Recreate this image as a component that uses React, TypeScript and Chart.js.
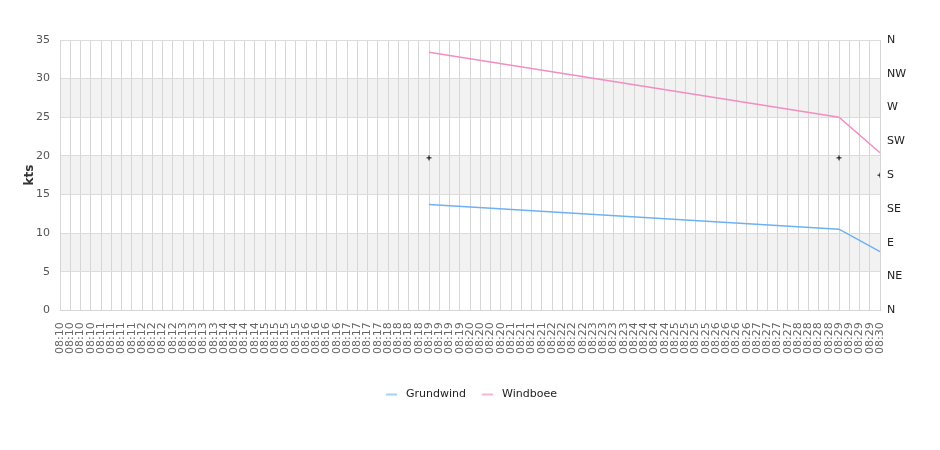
import React, { useEffect, useRef } from "react";
import { Chart, registerables } from "chart.js";

Chart.register(...registerables);

const timeLabels: string[] = [
  "08:10", "08:10", "08:10", "08:10",
  "08:11", "08:11", "08:11", "08:11",
  "08:12", "08:12", "08:12", "08:12",
  "08:13", "08:13", "08:13", "08:13",
  "08:14", "08:14", "08:14", "08:14",
  "08:15", "08:15", "08:15", "08:15",
  "08:16", "08:16", "08:16", "08:16",
  "08:17", "08:17", "08:17", "08:17",
  "08:18", "08:18", "08:18", "08:18",
  "08:19", "08:19", "08:19", "08:19",
  "08:20", "08:20", "08:20", "08:20",
  "08:21", "08:21", "08:21", "08:21",
  "08:22", "08:22", "08:22", "08:22",
  "08:23", "08:23", "08:23", "08:23",
  "08:24", "08:24", "08:24", "08:24",
  "08:25", "08:25", "08:25", "08:25",
  "08:26", "08:26", "08:26", "08:26",
  "08:27", "08:27", "08:27", "08:27",
  "08:28", "08:28", "08:28", "08:28",
  "08:29", "08:29", "08:29", "08:29",
  "08:30",
];

// observation points (label index) and their values
const obsIndex: number[] = [36, 76, 80];
const grundwind: number[] = [13.7, 10.5, 7.6];
const windboee: number[] = [33.4, 25.0, 20.4];
const direction: number[] = [203, 203, 180];

const directionNames: string[] = ["N", "NE", "E", "SE", "S", "SW", "W", "NW", "N"];
const bandRanges: number[][] = [[5, 10], [15, 20], [25, 30]];

function toSeries(values: number[]): (number | null)[] {
  const out: (number | null)[] = timeLabels.map(() => null);
  obsIndex.forEach((idx, i) => {
    out[idx] = values[i];
  });
  return out;
}

const bandPlugin = {
  id: "bands",
  beforeDraw(chart: any) {
    const { ctx, chartArea, scales } = chart;
    const y = scales.y;
    ctx.save();
    ctx.fillStyle = "#f2f2f2";
    bandRanges.forEach(([a, b]) => {
      const top = y.getPixelForValue(b);
      const bottom = y.getPixelForValue(a);
      ctx.fillRect(chartArea.left, top, chartArea.right - chartArea.left, bottom - top);
    });
    ctx.restore();
  },
};

export default function App() {
  const canvasRef = useRef<HTMLCanvasElement | null>(null);

  useEffect(() => {
    document.body.style.margin = "0";
    Chart.defaults.font.family = "'DejaVu Sans', sans-serif";
    Chart.defaults.font.size = 11;
    const canvas = canvasRef.current;
    if (!canvas) return;
    const chart = new Chart(canvas, {
      type: "line",
      data: {
        labels: timeLabels,
        datasets: [
          {
            label: "Grundwind",
            data: toSeries(grundwind),
            borderColor: "#6eb1f2",
            backgroundColor: "#a6cff5",
            borderWidth: 1.5,
            pointRadius: 0,
            spanGaps: true,
            yAxisID: "y",
          },
          {
            label: "Windboee",
            data: toSeries(windboee),
            borderColor: "#f28ec2",
            backgroundColor: "#f5b3d6",
            borderWidth: 1.5,
            pointRadius: 0,
            spanGaps: true,
            yAxisID: "y",
          },
          {
            label: "Richtung",
            data: toSeries(direction),
            showLine: false,
            pointStyle: "cross",
            pointRadius: 2.5,
            borderColor: "#000000",
            backgroundColor: "#000000",
            borderWidth: 1,
            clip: 0,
            yAxisID: "y2",
          },
        ],
      },
      options: {
        responsive: false,
        animation: false,
        layout: { padding: { left: 19, right: 16, top: 40, bottom: 40 } },
        plugins: {
          tooltip: { enabled: false },
          legend: {
            position: "bottom",
            labels: {
              color: "#222",
              boxWidth: 11,
              boxHeight: 2,
              padding: 16,
              filter: (item: any) => item.datasetIndex !== 2,
              generateLabels: (chart: any) =>
                chart.data.datasets.map((ds: any, i: number) => ({
                  text: " " + ds.label,
                  fillStyle: ds.backgroundColor,
                  strokeStyle: ds.backgroundColor,
                  lineWidth: 0,
                  hidden: false,
                  datasetIndex: i,
                  fontColor: "#222",
                })),
            },
          },
        },
        scales: {
          x: {
            offset: false,
            grid: { color: "#d6d6d6", drawTicks: false },
            border: { color: "#d6d6d6" },
            ticks: {
              autoSkip: false,
              maxRotation: 90,
              minRotation: 90,
              padding: 12,
              color: "#666",
            },
            afterFit: (scale: any) => {
              scale.height = scale.height + 7;
            },
          },
          y: {
            position: "left",
            min: 0,
            max: 35,
            ticks: { stepSize: 5, padding: 10, color: "#555" },
            grid: { color: "#dcdcdc", drawTicks: false },
            border: { color: "#d6d6d6" },
            title: {
              display: true,
              text: "kts",
              color: "#333",
              font: { size: 12, weight: "bold" },
              padding: { top: 4, bottom: 2 },
            },
            afterFit: (scale: any) => {
              scale.width = 41;
            },
          },
          y2: {
            position: "right",
            min: 0,
            max: 360,
            ticks: {
              stepSize: 45,
              padding: 7,
              color: "#222",
              callback: (v: any) => directionNames[Math.round(Number(v) / 45)],
            },
            grid: { drawOnChartArea: false, drawTicks: false },
            border: { display: false },
            afterFit: (scale: any) => {
              scale.width = 44;
            },
          },
        },
      },
      plugins: [bandPlugin],
    } as any);
    return () => chart.destroy();
  }, []);

  return (
    <div style={{ width: 940, height: 450 }}>
      <canvas ref={canvasRef} width={940} height={450} />
    </div>
  );
}
